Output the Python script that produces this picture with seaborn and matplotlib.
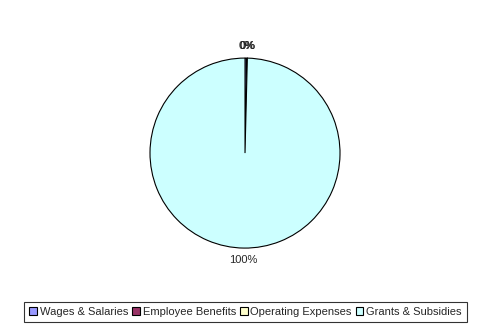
import matplotlib
matplotlib.use("Agg")
import matplotlib.pyplot as plt
import seaborn as sns

categories = ["Wages & Salaries", "Employee Benefits", "Operating Expenses", "Grants & Subsidies"]
values = [0.35, 0.02, 0.02, 99.61]
colors = ["#9999FF", "#993366", "#FFFFCC", "#CCFFFF"]

sns.set_style("white")
plt.rcParams['font.family'] = ['Liberation Sans', 'DejaVu Sans']

fig = plt.figure(figsize=(4.91, 3.33), dpi=100)
ax = fig.add_axes([0.3055, 0.255, 0.387, 0.5706])
total = sum(values)
labels = [f"{v / total * 100:.0f}%" for v in values]
wedges, texts = ax.pie(values, colors=colors, labels=labels, startangle=90,
                       counterclock=False, labeldistance=1.13,
                       wedgeprops=dict(edgecolor="black", linewidth=0.8),
                       textprops=dict(fontsize=8))
for t in texts:
    t.set_horizontalalignment("center")
    t.set_verticalalignment("center")
ax.set_xlim(-1, 1)
ax.set_ylim(-1, 1)
ax.set_aspect("equal")

leg = fig.legend(wedges, categories, loc="center", bbox_to_anchor=(0.5, 0.063),
                 ncol=4, fontsize=8, frameon=True, fancybox=False,
                 handlelength=0.7, handleheight=0.7, handletextpad=0.25,
                 columnspacing=0.35, borderpad=0.45)
leg.get_frame().set_edgecolor("black")
leg.get_frame().set_linewidth(0.8)
fig.savefig("out.png", dpi=100)
